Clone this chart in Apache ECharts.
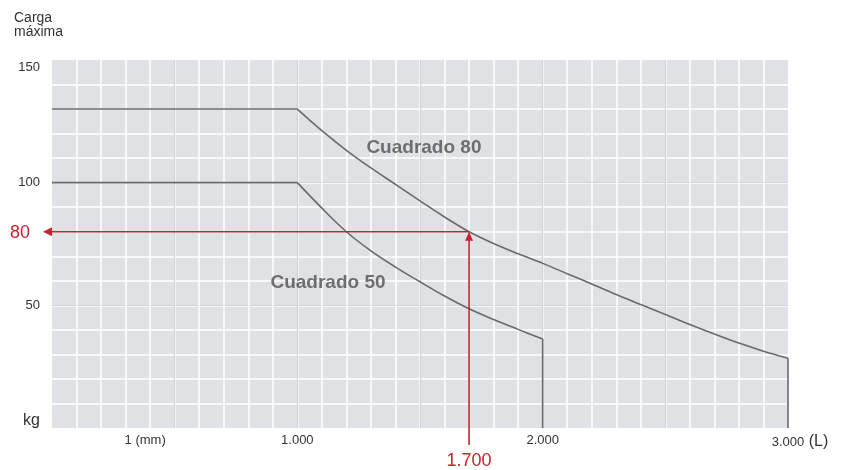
<!DOCTYPE html>
<html>
<head>
<meta charset="utf-8">
<script src="https://cdn.jsdelivr.net/npm/echarts@6/dist/echarts.min.js"></script>
<style>
html,body{margin:0;padding:0;background:#fff;}
#c{width:848px;height:470px;}
</style>
</head>
<body>
<div id="c"></div>
<script>
// ---- data ----
const lengths80 = [0, 1000, 1100, 1200, 1300, 1400, 1500, 1600, 1700, 1800, 1900, 2000, 2100, 2200, 2300, 2400, 2500, 2600, 2700, 2800, 2900, 3000, 3000];
const loads80   = [130, 130, 121.2, 113.2, 106.0, 99.3, 92.6, 86.0, 80, 75.2, 71.0, 67.1, 62.9, 58.7, 54.4, 50.3, 46.3, 42.2, 38.3, 34.6, 31.3, 28.4, 0];
const lengths50 = [0, 1000, 1100, 1200, 1300, 1400, 1500, 1600, 1700, 1800, 1900, 2000, 2000];
const loads50   = [100, 100, 89.6, 80, 72.2, 65.6, 59.6, 53.8, 48.6, 44.2, 40.2, 36.3, 0];
const seriesNames = ['Cuadrado 80', 'Cuadrado 50'];
const xTickValues = [400, 1000, 2000, 3000];
const xTickLabels = ['1 (mm)', '1.000', '2.000', '3.000'];
const yTickValues = [0, 50, 100, 150];
const yTickLabels = ['kg', '50', '100', '150'];
const exampleLength = 1700;
const exampleLoad = 80;
const exampleLengthLabel = '1.700';
const exampleLoadLabel = '80';

const FONT = '"Liberation Sans", Arial, Helvetica, sans-serif';
const RED = '#c8232e';
const CURVE = '#6a6a6a';

// split a curve into flat part, smooth decreasing part and final vertical drop
function parts(xs, ys) {
  const pts = xs.map((x, i) => [x, ys[i]]);
  const n = pts.length;
  return {
    flat: pts.slice(0, 2),
    curve: pts.slice(1, n - 1),
    drop: pts.slice(n - 2)
  };
}

const chart = echarts.init(document.getElementById('c'));

function curveSeries(name, xs, ys, labelCoord) {
  const p = parts(xs, ys);
  const base = { type: 'line', xAxisIndex: 0, yAxisIndex: 0, symbol: 'none', lineStyle: { color: CURVE, width: 1.6 }, z: 5, silent: true };
  return [
    Object.assign({}, base, { name: name, data: p.flat }),
    Object.assign({}, base, {
      name: name, data: p.curve, smooth: 0.35,
      markPoint: {
        symbol: 'circle', symbolSize: 0, silent: true,
        data: [{ coord: labelCoord }],
        label: { show: true, position: 'inside', formatter: name, color: '#6e6e6e', fontSize: 19, fontWeight: 'bold', fontFamily: FONT }
      }
    }),
    Object.assign({}, base, { name: name, data: p.drop })
  ];
}

const option = {
  animation: false,
  textStyle: { fontFamily: FONT },
  grid: {
    left: 52, top: 60, width: 736, height: 368,
    show: true, backgroundColor: '#dfe1e5', borderWidth: 0
  },
  xAxis: [
    {
      type: 'value', min: 0, max: 3000, interval: 100,
      axisLine: { show: false }, axisTick: { show: false },
      splitLine: { show: true, showMinLine: false, showMaxLine: false, lineStyle: { color: '#ffffff', width: 1.5 } },
      axisLabel: {
        margin: 6, color: '#333', fontSize: 13, fontFamily: FONT,
        formatter: function (v) {
          const i = xTickValues.indexOf(v);
          if (i < 0) return '';
          if (v === 3000) return '{a|' + xTickLabels[i] + '}{l| (L)}';
          if (v === 400) return '{m|' + xTickLabels[i] + '}';
          return xTickLabels[i];
        },
        rich: {
          a: { fontSize: 13, color: '#333', fontFamily: FONT, padding: [0, 0, 0, 24] },
          l: { fontSize: 16, color: '#333', fontFamily: FONT },
          m: { fontSize: 13, color: '#333', fontFamily: FONT, padding: [0, 10, 0, 0] }
        }
      }
    },
    {
      type: 'value', min: 0, max: 3000, interval: 500,
      axisLine: { show: false }, axisTick: { show: false }, axisLabel: { show: false },
      splitLine: { show: true, showMinLine: false, showMaxLine: false, lineStyle: { color: '#cfd3d9', width: 1.2 } }
    }
  ],
  yAxis: [
    {
      type: 'value', min: 0, max: 150, interval: 10,
      axisLine: { show: false }, axisTick: { show: false },
      splitLine: { show: true, showMinLine: false, showMaxLine: false, lineStyle: { color: '#ffffff', width: 1.5 } },
      axisLabel: {
        margin: 12, color: '#333', fontSize: 13, fontFamily: FONT,
        formatter: function (v) {
          const i = yTickValues.indexOf(v);
          if (i < 0) return '';
          if (v === 150) return '{t|' + yTickLabels[i] + '}';
          if (v === 0) return '{k|' + yTickLabels[i] + '}';
          return yTickLabels[i];
        },
        rich: {
          t: { fontSize: 13, color: '#333', fontFamily: FONT, padding: [14, 0, 0, 0] },
          k: { fontSize: 16, color: '#333', fontFamily: FONT, padding: [0, 0, 14, 0] }
        }
      }
    },
    {
      type: 'value', min: 0, max: 150, interval: 50, position: 'left',
      axisLine: { show: false }, axisTick: { show: false }, axisLabel: { show: false },
      splitLine: { show: true, showMinLine: false, showMaxLine: false, lineStyle: { color: '#cfd3d9', width: 1.2 } }
    }
  ],
  series: [].concat(
    curveSeries(seriesNames[0], lengths80, loads80, [1516, 114.3]),
    curveSeries(seriesNames[1], lengths50, loads50, [1125, 59.2])
  )
};

chart.setOption(option);

// Red annotation derived from the axis scales
const p = chart.convertToPixel({ xAxisIndex: 0, yAxisIndex: 0 }, [exampleLength, exampleLoad]);
const o = chart.convertToPixel({ xAxisIndex: 0, yAxisIndex: 0 }, [0, 0]);
const tipX = o[0] - 9;
const lineBottom = o[1] + 17;
chart.setOption({
  graphic: [
    {
      type: 'text', left: 14, top: 11,
      style: { text: 'Carga\nmáxima', fontSize: 14, lineHeight: 14, fill: '#333', fontFamily: FONT }
    },
    { type: 'line', z: 20, shape: { x1: p[0], y1: p[1], x2: tipX + 8, y2: p[1] }, style: { stroke: RED, lineWidth: 1.6 } },
    { type: 'polygon', z: 20, shape: { points: [[tipX, p[1]], [tipX + 9, p[1] - 4.5], [tipX + 9, p[1] + 4.5]] }, style: { fill: RED } },
    { type: 'line', z: 20, shape: { x1: p[0], y1: lineBottom, x2: p[0], y2: p[1] + 8 }, style: { stroke: RED, lineWidth: 1.6 } },
    { type: 'polygon', z: 20, shape: { points: [[p[0], p[1]], [p[0] - 4, p[1] + 9], [p[0] + 4, p[1] + 9]] }, style: { fill: RED } },
    { type: 'text', z: 20, x: tipX - 13, y: p[1] + 1, style: { text: exampleLoadLabel, fontSize: 18, fill: RED, fontFamily: FONT, align: 'right', verticalAlign: 'middle' } },
    { type: 'text', z: 20, x: p[0], y: o[1] + 33, style: { text: exampleLengthLabel, fontSize: 18, fill: RED, fontFamily: FONT, align: 'center', verticalAlign: 'middle' } }
  ]
});
</script>
</body>
</html>
